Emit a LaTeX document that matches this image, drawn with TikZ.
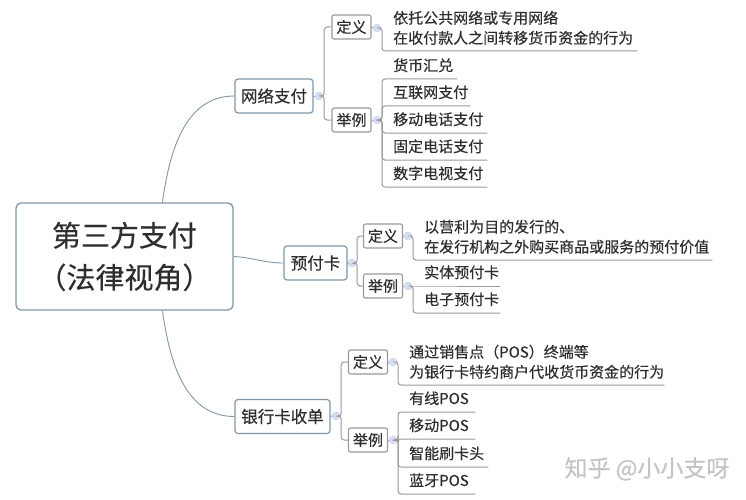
\documentclass[tikz,border=0pt]{standalone}
\usepackage{fontspec}
\setmainfont{Noto Sans CJK SC}[FakeBold=0.35]
\definecolor{inkc}{HTML}{2E2E2E}
\definecolor{bluec}{HTML}{7F97A8}
\definecolor{greyc}{HTML}{999999}
\definecolor{dotc}{HTML}{D3DEF2}
\definecolor{markg}{HTML}{C4C4C4}
\tikzset{
  rootbox/.style={draw=bluec,line width=1.3pt,rounded corners=5pt,fill=white,align=center,text=inkc,
    minimum width=217pt,minimum height=107pt,font=\fontsize{29}{42}\selectfont},
  topicbox/.style={draw=bluec,line width=1.2pt,rounded corners=3pt,fill=white,text=inkc,inner sep=0pt,
    minimum height=34pt,font=\fontsize{16.5}{20}\selectfont},
  tagbox/.style={draw=greyc,line width=1.1pt,rounded corners=2pt,fill=white,text=inkc,inner sep=0pt,
    minimum width=39pt,minimum height=24pt,font=\fontsize{15}{20}\selectfont},
  foldc/.style={circle,draw=dotc!85!bluec,fill=dotc,inner sep=0pt,minimum size=8pt},
  leafc/.style={anchor=south west,inner xsep=11pt,inner ysep=0pt,align=left,text=inkc,
    text width=#1pt-22pt,minimum height=27pt,font=\fontsize{15}{20}\selectfont},
  mainl/.style={draw=bluec,line width=0.9pt},
  tagl/.style={draw=greyc,line width=1pt,rounded corners=3pt},
  markc/.style={text=markg,font=\fontsize{23}{26}\selectfont}
}
\begin{document}
\begin{tikzpicture}[x=1pt,y=-1pt]
\useasboundingbox (0,0) rectangle (746,500);
\node [rootbox] (root) at (124.5,256.5) {第三方支付\\（法律视角）};

\node [topicbox,minimum width=78pt] (wl) at (274,96) {网络支付};
\node [foldc] (wlf) at (319,96) {};
\node [tagbox] (wldy) at (351.5,27) {定义};
\node [foldc] (wldyf) at (377,28) {};
\node [tagbox] (wljl) at (351.5,120) {举例};
\node [foldc] (wljlf) at (377,120) {};
\node [leafc=255,minimum height=46pt] (wl1) at (382,51) {依托公共网络或专用网络\\在收付款人之间转移货币资金的行为};
\node [leafc=75] (wl2) at (382,79) {货币汇兑};
\node [leafc=88] (wl3) at (382,106) {互联网支付};
\node [leafc=105] (wl4) at (382,133) {移动电话支付};
\node [leafc=105] (wl5) at (382,160) {固定电话支付};
\node [leafc=105] (wl6) at (382,187) {数字电视支付};

\node [topicbox,minimum width=63pt] (yf) at (315.5,263) {预付卡};
\node [foldc] (yff) at (352,263) {};
\node [tagbox] (yfdy) at (383,236) {定义};
\node [foldc] (yfdyf) at (408,236) {};
\node [tagbox] (yfjl) at (383,286) {举例};
\node [foldc] (yfjlf) at (408,286) {};
\node [leafc=299,minimum height=46pt] (yf1) at (413,260) {以营利为目的发行的、\\在发行机构之外购买商品或服务的预付价值};
\node [leafc=87] (yf2) at (413,286) {实体预付卡};
\node [leafc=87] (yf3) at (413,313) {电子预付卡};

\node [topicbox,minimum width=95pt] (yh) at (282.5,416.5) {银行卡收单};
\node [foldc] (yhf) at (336,416) {};
\node [tagbox] (yhdy) at (368,362) {定义};
\node [foldc] (yhdyf) at (393,362) {};
\node [tagbox] (yhjl) at (368,440) {举例};
\node [foldc] (yhjlf) at (393,440) {};
\node [leafc=266,minimum height=46pt] (yh1) at (398,385) {通过销售点（POS）终端等\\为银行卡特约商户代收货币资金的行为};
\node [leafc=77] (yh2) at (398,412) {有线POS};
\node [leafc=77] (yh3) at (398,439) {移动POS};
\node [leafc=90] (yh4) at (398,467) {智能刷卡头};
\node [leafc=77] (yh5) at (398,494) {蓝牙POS};

\node [markc] (mark) at (647,469) {知乎 @小小支呀};

\draw [mainl] (root.55) to [out=82,in=180] (wl.west);
\draw [mainl] (root.east) to [out=-3,in=180] (yf.west);
\draw [mainl] (root.-55) to [out=-82,in=180] (yh.west);

\draw [mainl] (wl.east) -- (wlf.west);
\draw [mainl] (yf.east) -- (yff.west);
\draw [mainl] (yh.east) -- (yhf.west);

\draw [tagl] (wlf.east) -- ++(1,0) |- (wldy.west);
\draw [tagl] (wlf.east) -- ++(1,0) |- (wljl.west);
\draw [tagl] (yff.east) -- ++(1,0) |- (yfdy.west);
\draw [tagl] (yff.east) -- ++(1,0) |- (yfjl.west);
\draw [tagl] (yhf.east) -- ++(1,0) |- (yhdy.west);
\draw [tagl] (yhf.east) -- ++(1,0) |- (yhjl.west);

\draw [tagl] (wldy.east) -- (wldyf.west);
\draw [tagl] (wljl.east) -- (wljlf.west);
\draw [tagl] (yfdy.east) -- (yfdyf.west);
\draw [tagl] (yfjl.east) -- (yfjlf.west);
\draw [tagl] (yhdy.east) -- (yhdyf.west);
\draw [tagl] (yhjl.east) -- (yhjlf.west);

\draw [tagl] (wldyf.east) -| (wl1.south west) -- (wl1.south east);
\draw [tagl] (wljlf.east) -| (wl2.south west) -- (wl2.south east);
\draw [tagl] (wljlf.east) -| (wl3.south west) -- (wl3.south east);
\draw [tagl] (wljlf.east) -| (wl4.south west) -- (wl4.south east);
\draw [tagl] (wljlf.east) -| (wl5.south west) -- (wl5.south east);
\draw [tagl] (wljlf.east) -| (wl6.south west) -- (wl6.south east);

\draw [tagl] (yfdyf.east) -| (yf1.south west) -- (yf1.south east);
\draw [tagl] (yfjlf.east) -- (yf2.south west) -- (yf2.south east);
\draw [tagl] (yfjlf.east) -| (yf3.south west) -- (yf3.south east);

\draw [tagl] (yhdyf.east) -| (yh1.south west) -- (yh1.south east);
\draw [tagl] (yhjlf.east) -| (yh2.south west) -- (yh2.south east);
\draw [tagl] (yhjlf.east) -| (yh3.south west) -- (yh3.south east);
\draw [tagl] (yhjlf.east) -| (yh4.south west) -- (yh4.south east);
\draw [tagl] (yhjlf.east) -| (yh5.south west) -- (yh5.south east);
\end{tikzpicture}
\end{document}
